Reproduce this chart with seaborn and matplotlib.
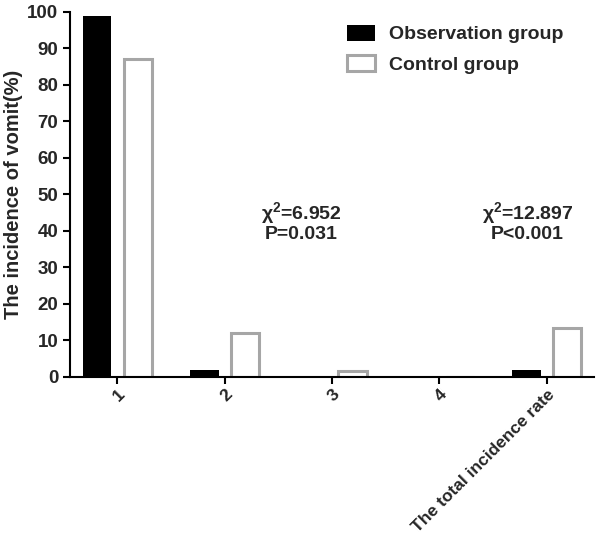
import pandas as pd
import matplotlib
matplotlib.use('Agg')
import matplotlib.pyplot as plt
import seaborn as sns

sns.set_style("ticks")
plt.rcParams['font.family'] = ['Liberation Sans', 'DejaVu Sans']
plt.rcParams['font.weight'] = 'bold'
plt.rcParams['mathtext.fontset'] = 'custom'
plt.rcParams['mathtext.rm'] = 'Liberation Sans'
plt.rcParams['mathtext.bf'] = 'Liberation Sans:bold'

# Data
categories = ["1", "2", "3", "4", "The total incidence rate"]
observation = [99, 2, 0, 0, 2]
control = [87, 12, 1.7, 0, 13.5]
groups = ["Observation group", "Control group"]

df = pd.DataFrame({
    "cat": categories * 2,
    "value": observation + control,
    "group": [groups[0]] * len(categories) + [groups[1]] * len(categories),
})

fig = plt.figure(figsize=(6, 5.43), dpi=100)
ax = fig.add_axes([0.117, 0.306, 0.873, 0.672])

sns.barplot(data=df, x="cat", y="value", hue="group", order=categories,
            hue_order=groups, palette={groups[0]: "black", groups[1]: "white"},
            width=0.76, gap=0.3, legend=False, ax=ax, errorbar=None)

# styling of the control bars: white fill with grey outline
for p in ax.containers[0]:
    p.set_edgecolor("black")
    p.set_linewidth(0)
for p in ax.containers[1]:
    p.set_edgecolor("#a6a6a6")
    p.set_linewidth(2.2)

ax.set_ylim(0, 100)
ax.set_xlim(-0.44, 4.44)
ax.set_yticks(range(0, 101, 10))
ax.tick_params(axis="both", length=5, width=1.5, labelsize=13.5, color="black")
ax.tick_params(axis="x", pad=2)
for lbl in ax.get_yticklabels():
    lbl.set_fontweight("bold")
ax.set_xticks(range(len(categories)))
ax.set_xticklabels(categories, rotation=45, ha="right", rotation_mode="anchor",
                   fontweight="bold", fontsize=12.5)
ax.set_xlabel("")
ax.set_ylabel("The incidence of vomit(%)", fontsize=14.5, fontweight="bold", labelpad=3)
sns.despine(ax=ax)
for s in ["left", "bottom"]:
    ax.spines[s].set_linewidth(1.5)
    ax.spines[s].set_color("black")

# chi-square annotations
chi_fmt = r"$\mathregular{\chi^{\mathbf{2}}}$=%s"
ax.text(1.71, 45, chi_fmt % "6.952", ha="center", va="center", fontsize=14, fontweight="bold")
ax.text(1.71, 39, "P=0.031", ha="center", va="center", fontsize=14, fontweight="bold")
ax.text(3.82, 45, chi_fmt % "12.897", ha="center", va="center", fontsize=14, fontweight="bold")
ax.text(3.82, 39, "P<0.001", ha="center", va="center", fontsize=14, fontweight="bold")

handles = [ax.containers[0][0], ax.containers[1][0]]
fig.legend(handles, groups, loc="upper left", bbox_to_anchor=(347 / 600, 1 - 25 / 543),
           frameon=False, borderpad=0, borderaxespad=0, handlelength=1.45,
           handleheight=0.85, handletextpad=0.7, labelspacing=0.6,
           prop={"weight": "bold", "size": 14})

fig.savefig("out.png", dpi=100)
